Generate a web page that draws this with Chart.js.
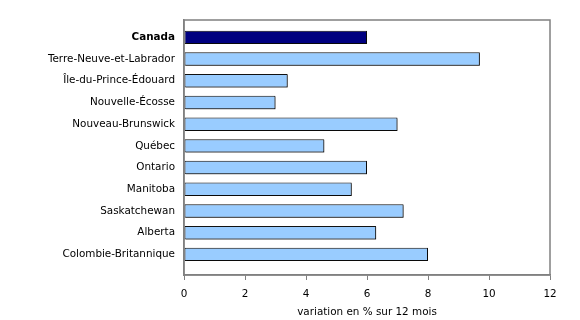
<!DOCTYPE html>
<html>
<head>
<meta charset="utf-8">
<script src="https://cdn.jsdelivr.net/npm/chart.js@4"></script>
<style>
  html, body { margin: 0; padding: 0; background: #fff; }
  #wrap { width: 580px; height: 320px; }
</style>
</head>
<body>
<div id="wrap"><canvas id="chart"></canvas></div>
<script>
const provinces = ['Canada', 'Terre-Neuve-et-Labrador', 'Île-du-Prince-Édouard', 'Nouvelle-Écosse',
    'Nouveau-Brunswick', 'Québec', 'Ontario', 'Manitoba', 'Saskatchewan', 'Alberta', 'Colombie-Britannique'];
const changes = [6.0, 9.7, 3.4, 3.0, 7.0, 4.6, 6.0, 5.5, 7.2, 6.3, 8.0];
const xTicks = [0, 2, 4, 6, 8, 10, 12];
const axisTitle = 'variation en % sur 12 mois';

const FONT = 'Verdana, "DejaVu Sans", sans-serif';

// frame around the plot area + small shadow under the bars
const frame = {
    id: 'frame',
    beforeDatasetsDraw(chart) {
        const ctx = chart.ctx;
        ctx.save();
        ctx.shadowColor = 'rgba(0,0,0,0.45)';
        ctx.shadowOffsetX = 1.5;
        ctx.shadowOffsetY = 1;
        ctx.shadowBlur = 0;
    },
    afterDatasetsDraw(chart) {
        chart.ctx.restore();
    },
    afterDraw(chart) {
        const { ctx, chartArea: a } = chart;
        ctx.save();
        ctx.strokeStyle = '#808080';
        ctx.lineWidth = 1.5;
        ctx.strokeRect(a.left, a.top, a.right - a.left, a.bottom - a.top);
        ctx.restore();
    }
};

new Chart(document.getElementById('chart').getContext('2d'), {
    type: 'bar',
    data: {
        datasets: [{
            data: changes.map((v, i) => ({ x: v, y: i })),
            backgroundColor: provinces.map(p => p === 'Canada' ? '#000080' : '#99ccff'),
            borderColor: '#111111',
            borderWidth: 1,
            borderSkipped: false,
            barPercentage: 0.62,
            categoryPercentage: 1
        }]
    },
    options: {
        indexAxis: 'y',
        responsive: true,
        maintainAspectRatio: false,
        animation: false,
        layout: { padding: { top: 20, right: 30, left: 0, bottom: 0 } },
        plugins: { legend: { display: false }, tooltip: { enabled: false } },
        scales: {
            x: {
                type: 'linear',
                min: 0,
                max: 12,
                afterBuildTicks: axis => { axis.ticks = xTicks.map(v => ({ value: v })); },
                afterFit: axis => { axis.height = 45; },
                grid: { display: true, drawOnChartArea: false, drawTicks: true, tickLength: 5, color: '#808080' },
                border: { display: true, color: '#808080', width: 1.5 },
                ticks: { color: '#000', font: { family: FONT, size: 10.4 }, padding: 8, maxRotation: 0 },
                title: { display: true, text: axisTitle, color: '#000', font: { family: FONT, size: 10.4 }, padding: { top: 4, bottom: 1 } }
            },
            y: {
                type: 'linear',
                offset: false,
                reverse: true,
                min: -0.8,
                max: 10.95,
                afterBuildTicks: axis => { axis.ticks = provinces.map((_, i) => ({ value: i })); },
                afterFit: axis => { axis.width = 184; },
                grid: { display: false, drawTicks: false },
                border: { display: true, color: '#808080', width: 1.5 },
                ticks: {
                    color: '#000',
                    padding: 9,
                    autoSkip: false,
                    callback: v => provinces[v] ?? '',
                    font: ctx => ({ family: FONT, size: 10.4, weight: provinces[ctx.tick && ctx.tick.value] === 'Canada' ? 'bold' : 'normal' })
                }
            }
        }
    },
    plugins: [frame]
});
</script>
</body>
</html>
